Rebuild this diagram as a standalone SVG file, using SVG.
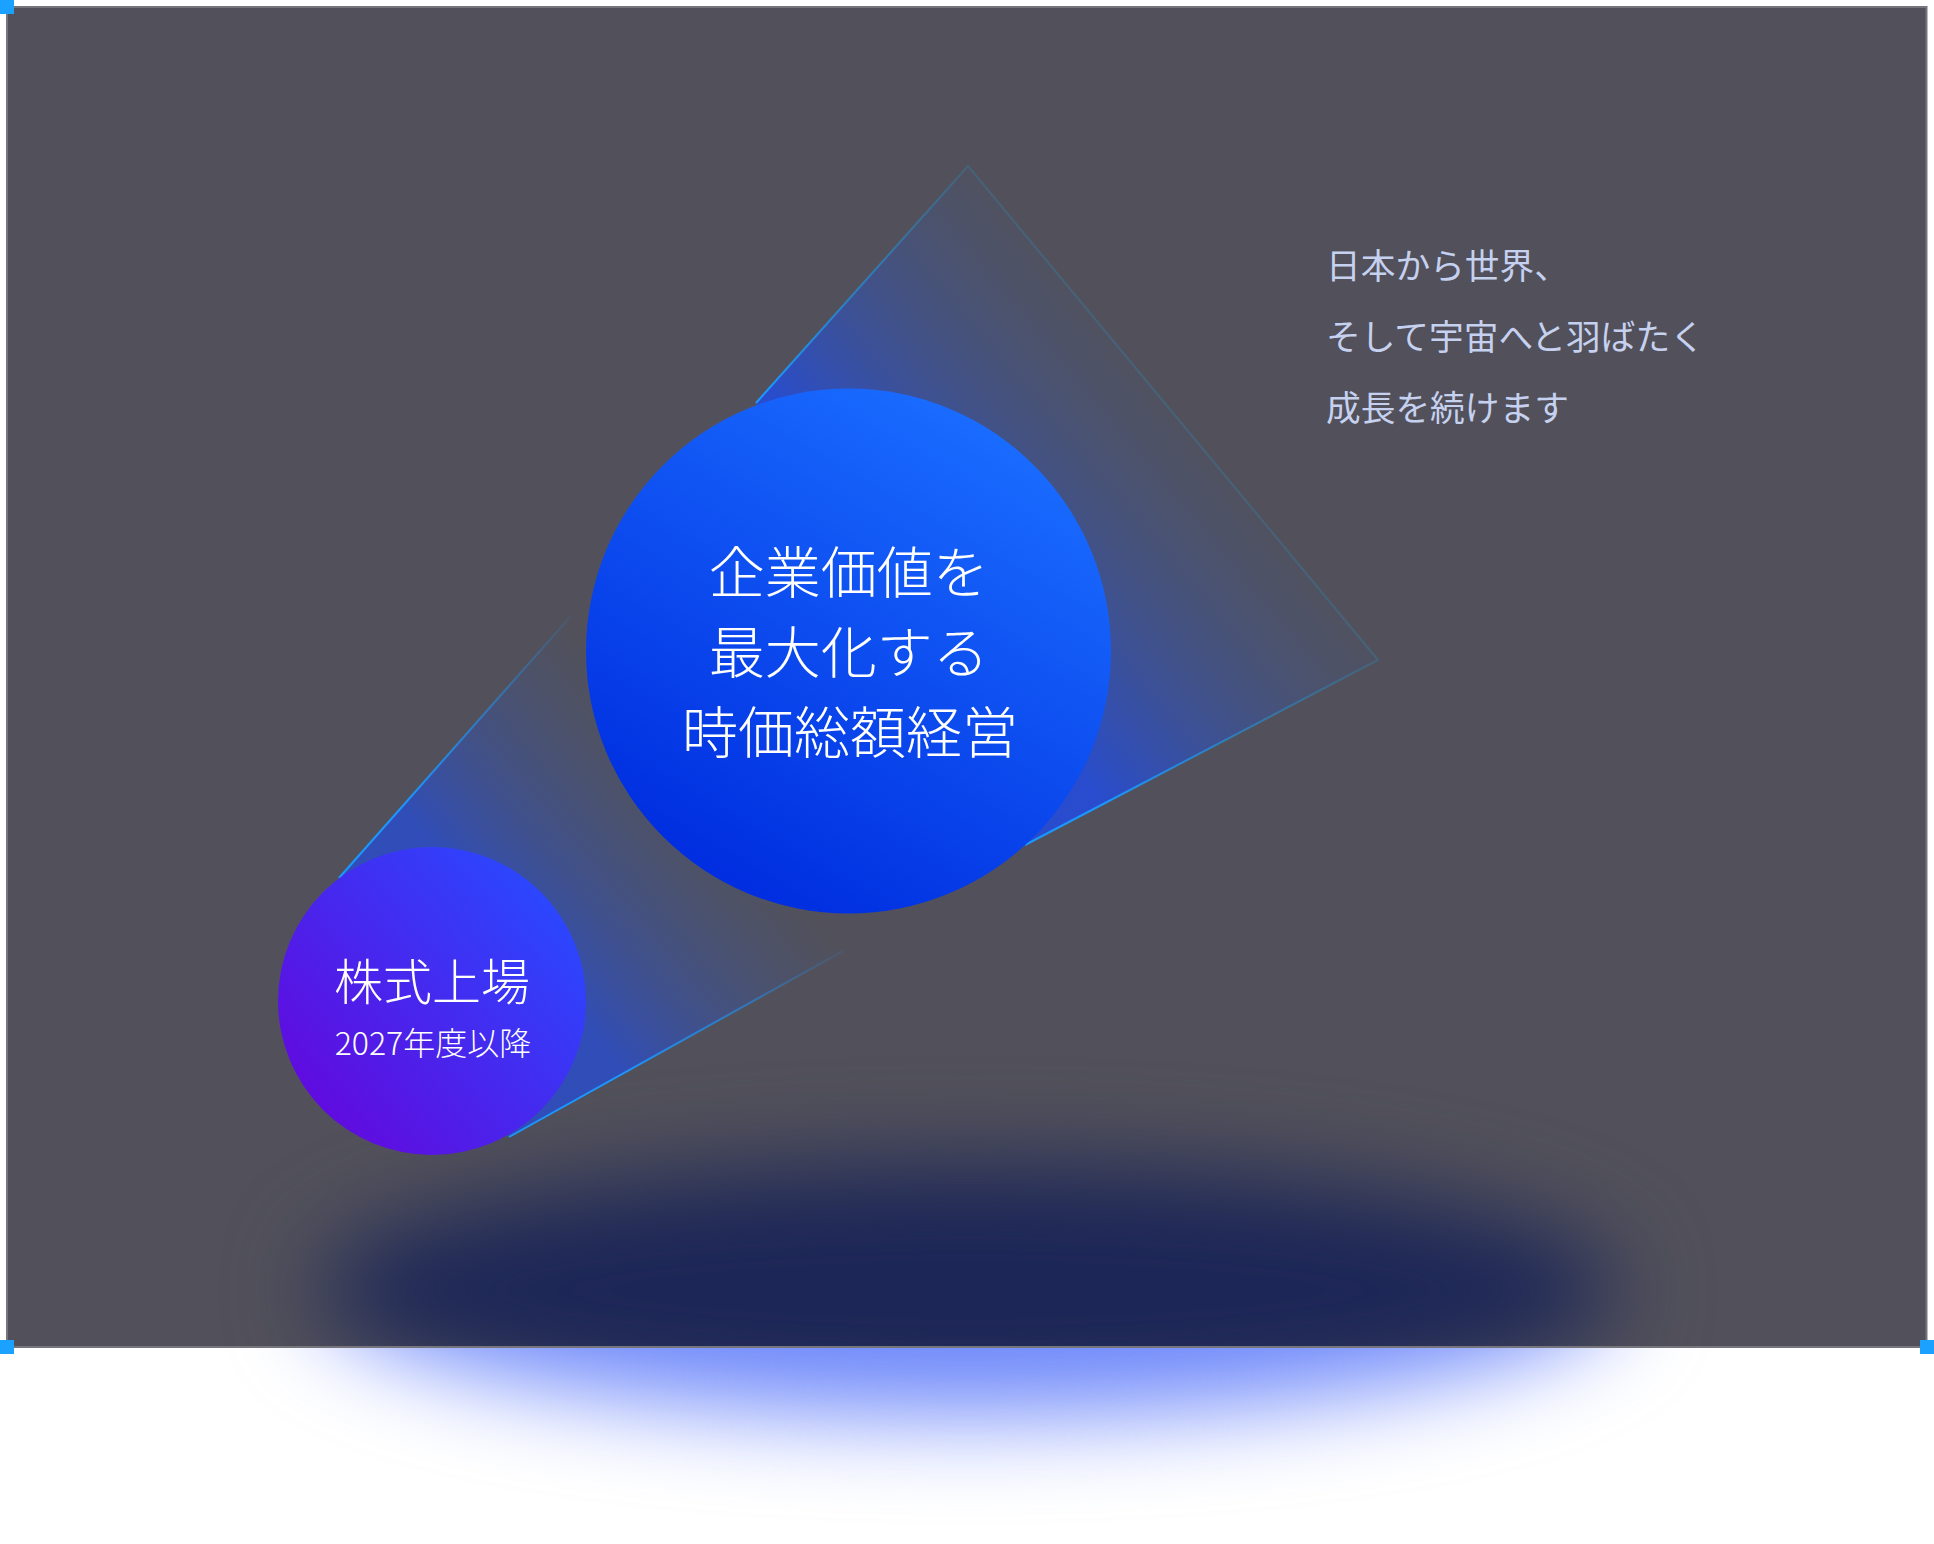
<svg xmlns="http://www.w3.org/2000/svg" width="1934" height="1544" viewBox="0 0 1934 1544">
  <defs>
    <style>
      .jp { font-family: "Noto Sans CJK JP", "Noto Sans CJK SC", sans-serif; }
      .node-text { fill: #ffffff; font-weight: 300; text-anchor: middle; }
      .tagline { fill: #c6d1f0; font-size: 34.7px; font-weight: 400; }
      .handle { fill: #1ba1ff; }
    </style>
    <filter id="blur" x="-40%" y="-150%" width="180%" height="400%" color-interpolation-filters="sRGB">
      <feGaussianBlur stdDeviation="46"/>
    </filter>
    <clipPath id="frameClip">
      <rect x="8" y="8" width="1918" height="1338"/>
    </clipPath>
    <linearGradient id="bigGrad" x1="0.8" y1="0.08" x2="0.3" y2="0.95">
      <stop offset="0" stop-color="#1a6cff"/>
      <stop offset="1" stop-color="#002ee0"/>
    </linearGradient>
    <linearGradient id="smallGrad" x1="0.9" y1="0.15" x2="0.1" y2="0.85">
      <stop offset="0" stop-color="#2a48ff"/>
      <stop offset="1" stop-color="#610ade"/>
    </linearGradient>
    <linearGradient id="bigConeFill" gradientUnits="userSpaceOnUse" x1="925" y1="587" x2="1158" y2="394">
      <stop offset="0" stop-color="#1e4bea" stop-opacity="0.8"/>
      <stop offset="1" stop-color="#3a5a9a" stop-opacity="0.08"/>
    </linearGradient>
    <linearGradient id="bigConeStroke" gradientUnits="userSpaceOnUse" x1="925" y1="587" x2="1158" y2="394">
      <stop offset="0" stop-color="#1a98ff" stop-opacity="1"/>
      <stop offset="1" stop-color="#2a8ab8" stop-opacity="0.3"/>
    </linearGradient>
    <linearGradient id="smallConeFill" gradientUnits="userSpaceOnUse" x1="509" y1="937" x2="700" y2="776">
      <stop offset="0" stop-color="#1e4bea" stop-opacity="0.65"/>
      <stop offset="1" stop-color="#3a5a9a" stop-opacity="0"/>
    </linearGradient>
    <linearGradient id="smallConeStroke" gradientUnits="userSpaceOnUse" x1="509" y1="937" x2="720" y2="760">
      <stop offset="0" stop-color="#1a98ff" stop-opacity="1"/>
      <stop offset="1" stop-color="#1a98ff" stop-opacity="0"/>
    </linearGradient>
  </defs>

  <rect x="0" y="0" width="1934" height="1544" fill="#ffffff"/>

  <g id="glow-outside">
    <ellipse cx="968" cy="1285" rx="650" ry="130" fill="#6e88fa" filter="url(#blur)"/>
  </g>

  <g id="frame">
    <rect x="7" y="7" width="1919.5" height="1340" fill="#52515b" stroke="#76757c" stroke-width="2"/>
  </g>

  <g id="glow-inside" clip-path="url(#frameClip)">
    <ellipse cx="968" cy="1290" rx="650" ry="125" fill="#1d2757" filter="url(#blur)"/>
  </g>

  <g id="connectors">
    <polygon points="339,878 570,617 843,951 509,1137" fill="url(#smallConeFill)"/>
    <line x1="339" y1="878" x2="570" y2="617" stroke="url(#smallConeStroke)" stroke-width="2"/>
    <line x1="509" y1="1137" x2="843" y2="951" stroke="url(#smallConeStroke)" stroke-width="2"/>
    <polygon points="756,403 968,166 1378,660 1025,845" fill="url(#bigConeFill)"/>
    <polyline points="756,403 968,166 1378,660 1025,845" fill="none" stroke="url(#bigConeStroke)" stroke-width="2"/>
  </g>

  <g id="node-listing">
    <circle cx="432" cy="1001" r="154" fill="url(#smallGrad)"/>
    <text class="jp node-text" x="432" y="1000" font-size="49">株式上場</text>
    <text class="jp node-text" x="433" y="1055" font-size="32">2027年度以降</text>
  </g>

  <g id="node-value">
    <circle cx="848.5" cy="651" r="262.5" fill="url(#bigGrad)"/>
    <text class="jp node-text" font-size="56">
      <tspan x="855" y="593">企業価値を</tspan>
      <tspan x="855" y="673">最大化する</tspan>
      <tspan x="850" y="753">時価総額経営</tspan>
    </text>
  </g>

  <g id="tagline">
    <text class="jp tagline">
      <tspan x="1326" y="279">日本から世界、</tspan>
      <tspan x="1326" y="350">そして宇宙へと羽ばたく</tspan>
      <tspan x="1326" y="421">成長を続けます</tspan>
    </text>
  </g>

  <g id="handles">
    <rect class="handle" x="0" y="0" width="14" height="14"/>
    <rect class="handle" x="0" y="1340" width="14" height="14"/>
    <rect class="handle" x="1920" y="1340" width="14" height="14"/>
  </g>
</svg>
